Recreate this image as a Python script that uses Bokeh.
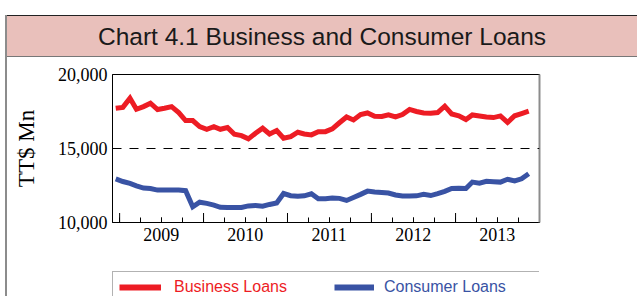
import math
import pandas as pd
from bokeh.plotting import figure
from bokeh.models import (Range1d, LinearAxis, FixedTicker, DatetimeTickFormatter,
                          NumeralTickFormatter, Span, Legend, LegendItem, Div,
                          ColumnDataSource)
from bokeh.layouts import column
from bokeh.embed import file_html
from bokeh.resources import INLINE

# ---------------- data ----------------
TITLE = "Chart 4.1 Business and Consumer Loans"
Y_LABEL = "TT$ Mn"
SERIES = ["Business Loans", "Consumer Loans"]
FIRST_MONTH = "2008-12-01"
YEARS = [2009, 2010, 2011, 2012, 2013]
Y_TICKS = [10000, 15000, 20000]
REFERENCE = 15000

business = [17720, 17780, 18400, 17650, 17830, 18060, 17630, 17720, 17830, 17430,
            16890, 16890, 16480, 16300, 16480, 16300, 16420, 15960, 15870, 15650,
            16030, 16370, 15980, 16210, 15690, 15800, 16100, 15980, 15920, 16140,
            16140, 16330, 16740, 17130, 16930, 17290, 17400, 17180, 17160, 17270,
            17130, 17290, 17640, 17500, 17400, 17380, 17430, 17860, 17330, 17210,
            16960, 17270, 17200, 17130, 17090, 17200, 16760, 17210, 17360, 17520]

consumer = [12950, 12770, 12640, 12480, 12330, 12300, 12190, 12200, 12200, 12200,
            12150, 11060, 11370, 11290, 11180, 11030, 11010, 11010, 11010, 11120,
            11150, 11100, 11220, 11320, 11960, 11810, 11770, 11800, 11940, 11600,
            11600, 11650, 11630, 11490, 11690, 11900, 12120, 12060, 12030, 11990,
            11860, 11790, 11790, 11800, 11900, 11820, 11950, 12100, 12300, 12310,
            12300, 12730, 12660, 12780, 12760, 12730, 12920, 12810, 12950, 13290]

# monthly observations, plotted mid-month
months = pd.date_range(FIRST_MONTH, periods=len(business), freq="MS") + pd.Timedelta(days=14)

RED = "#ED1C24"
BLUE = "#3953A4"
SERIF = "Liberation Serif"
SANS = "Liberation Sans"


def ts(y, m):
    return pd.Timestamp(year=y, month=m, day=1)


def ms(y, m):
    return ts(y, m).value / 1e6


src = ColumnDataSource(dict(x=months, business=business, consumer=consumer))

W = 630
BL, BR = 105, 98
p = figure(width=W, height=213, output_backend="svg", toolbar_location=None,
           x_axis_type=None,
           x_range=Range1d(pd.Timestamp(FIRST_MONTH), ts(YEARS[-1] + 1, 1)),
           y_range=Range1d(Y_TICKS[0], Y_TICKS[-1]),
           min_border_left=BL, min_border_right=BR, min_border_top=17, min_border_bottom=48)
p.grid.visible = False
p.outline_line_color = "black"
p.outline_line_width = 1
p.background_fill_color = "white"
p.border_fill_color = "white"

# y axis
ya = p.yaxis[0]
ya.ticker = FixedTicker(ticks=Y_TICKS)
ya.formatter = NumeralTickFormatter(format="0,0")
ya.major_tick_in = 0
ya.major_tick_out = 0
ya.minor_tick_in = 0
ya.minor_tick_out = 0
ya.major_label_text_font = SERIF
ya.major_label_text_font_size = "18px"
ya.major_label_text_color = "black"
ya.major_label_standoff = 5
ya.axis_label = Y_LABEL
ya.axis_label_text_font = SERIF
ya.axis_label_text_font_size = "23px"
ya.axis_label_text_font_style = "normal"
ya.axis_label_text_color = "black"
ya.axis_label_standoff = 16
ya.axis_line_color = "black"

# x axis: labels mid-year, short ticks every quarter
year_starts = [ts(y, 1) for y in YEARS] + [ts(YEARS[-1] + 1, 1)]
quarters = [ms(y, m) for y in YEARS for m in (1, 4, 7, 10)] + [ms(YEARS[-1] + 1, 1)]
mid_years = [ms(y, 7) for y in YEARS]

fmt = "%Y"
xa = LinearAxis(ticker=FixedTicker(ticks=mid_years, minor_ticks=quarters),
                formatter=DatetimeTickFormatter(years=fmt, months=fmt, days=fmt, hours=fmt,
                                                minutes=fmt, seconds=fmt,
                                                milliseconds=fmt, microseconds=fmt))
xa.major_tick_in = 5
xa.major_tick_out = 0
xa.minor_tick_in = 5
xa.minor_tick_out = 0
xa.major_tick_line_color = "black"
xa.minor_tick_line_color = "black"
xa.axis_line_color = "black"
xa.major_label_text_font = SERIF
xa.major_label_text_font_size = "18px"
xa.major_label_text_color = "black"
xa.major_label_standoff = 5
p.add_layout(xa, "below")

# longer ticks at year boundaries (half of each dash is clipped by the frame)
p.scatter(x=year_starts, y=[Y_TICKS[0]] * len(year_starts), marker="dash",
          angle=math.pi / 2, size=19, line_color="black", line_width=1)

# right edge line
ra = LinearAxis(ticker=FixedTicker(ticks=[]))
ra.axis_line_color = "#8c8c8c"
ra.axis_line_width = 2
ra.major_tick_in = 0
ra.major_tick_out = 0
ra.minor_tick_in = 0
ra.minor_tick_out = 0
p.add_layout(ra, "right")

p.add_layout(Span(location=REFERENCE, dimension="width", line_color="black",
                  line_width=1, line_dash="9 8"))

p.line(x="x", y="business", source=src, line_color=RED, line_width=5, line_join="miter")
p.line(x="x", y="consumer", source=src, line_color=BLUE, line_width=5, line_join="miter")

# ---------------- legend strip ----------------
# frame is aligned with the chart above; its series lie outside this strip's ranges,
# only the key is visible
LH = 26
lg = figure(width=W, height=LH, output_backend="svg", toolbar_location=None,
            x_axis_type=None, y_axis_type=None,
            x_range=Range1d(0, 1), y_range=Range1d(0, 1),
            min_border_left=BL, min_border_right=BR, min_border_top=1, min_border_bottom=0)
lg.grid.visible = False
lg.outline_line_color = None
lg.background_fill_color = "white"
lg.border_fill_color = "white"
k1 = lg.line(x="x", y="business", source=src, line_color=RED, line_width=6)
k2 = lg.line(x="x", y="consumer", source=src, line_color=BLUE, line_width=6)

common = dict(orientation="horizontal", padding=6, margin=0, glyph_height=16, label_height=16,
              label_text_font=SANS, label_text_font_size="16px", label_text_baseline="middle",
              background_fill_alpha=0)
# the second key keeps its padding with an invisible (white) frame drawn underneath the first
leg2 = Legend(items=[LegendItem(label=SERIES[1], renderers=[k2])], location="top_right",
              glyph_width=40, label_standoff=10, label_width=148,
              label_text_color=BLUE, border_line_color="white", border_line_width=1, **common)
leg1 = Legend(items=[LegendItem(label=SERIES[0], renderers=[k1])], location="top_left",
              glyph_width=42, label_standoff=13, label_width=359,
              label_text_color=RED, border_line_color="#666666", border_line_width=1, **common)
lg.add_layout(leg2)
lg.add_layout(leg1)

title = Div(text=(
    '<div style="width:%dpx;height:42px;line-height:41px;text-align:center;'
    'font-family:\'Liberation Sans\';font-size:24.5px;color:#1a1a1a;background:#E9C0BB;'
    'border-top:1px solid #222;border-bottom:1px solid #777;'
    'box-sizing:border-box;">%s</div>' % (W, TITLE)),
    width=W, height=42, margin=0)

layout = column(title, p, lg, margin=(15, 0, 0, 5),
                styles={"border-left": "2px solid #8c8c8c"})

open("out.html", "w").write(file_html(layout, INLINE))
